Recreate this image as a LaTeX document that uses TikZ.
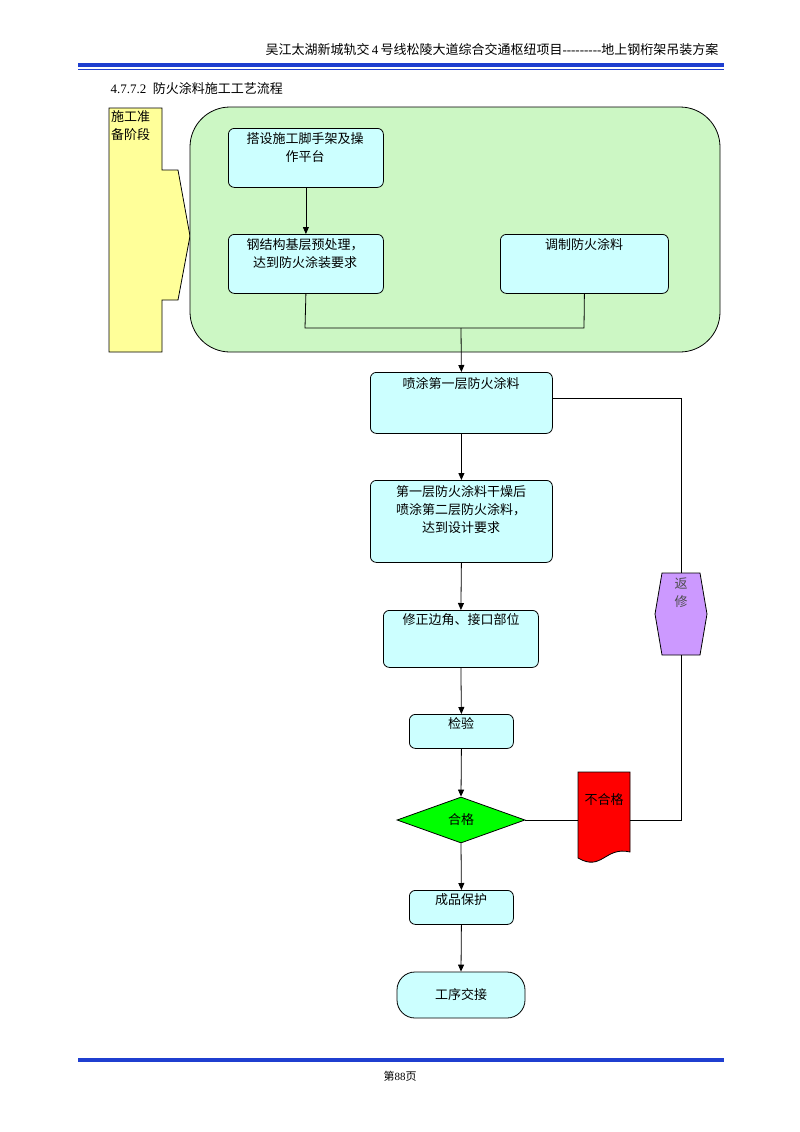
\documentclass[tikz,border=0pt]{standalone}
\usepackage{fontspec}
\setmainfont{Liberation Serif}
\newfontfamily\cjk{Noto Sans CJK SC}
\usetikzlibrary{shapes.geometric,arrows.meta}
\definecolor{boxc}{HTML}{CCFFFF}
\definecolor{greenbg}{HTML}{CCF7C4}
\definecolor{yel}{HTML}{FFFF99}
\definecolor{purp}{HTML}{CC99FF}
\definecolor{hdblue}{HTML}{1F3FD0}
\begin{document}
\begin{tikzpicture}[x=1pt,y=-1pt,
  box/.style={draw,fill=boxc,rounded corners=6pt,line width=0.8pt,align=center,inner sep=0pt,anchor=north west},
  lbl/.style={anchor=north,align=center,font=\cjk\fontsize{13}{18}\selectfont},
  arr/.style={-{Triangle[length=7pt,width=6pt]},line width=0.8pt},
  ln/.style={line width=0.8pt}]
\useasboundingbox (0,0) rectangle (800,1132);
% header
\node[anchor=base east,font=\fontsize{13}{14}\selectfont] at (722,55) {{\cjk 吴江太湖新城轨交}\,4\,{\cjk 号线松陵大道综合交通枢纽项目}{-}{-}{-}{-}{-}{-}{-}{-}{-}{\cjk 地上钢桁架吊装方案}};
\fill[hdblue] (78,63) rectangle (724,67);
\draw[hdblue,line width=0.8pt] (78,69.5) -- (724,69.5);
\node[anchor=base west,font=\fontsize{13}{14}\selectfont] at (107,93) {4.7.7.2\ \ {\cjk 防火涂料施工工艺流程}};
% stage arrow
\draw[fill=yel,line width=0.8pt] (109,108)--(162,108)--(162,170)--(178,170)--(190,236)--(178,300)--(162,300)--(162,352)--(109,352)--cycle;
\node[anchor=north west,align=left,inner sep=0pt,font=\cjk\fontsize{13}{18}\selectfont] (stage) at (111,110) {施工准\\备阶段};
% green area
\draw[fill=greenbg,rounded corners=40pt,line width=0.8pt] (190,107) rectangle (720,352);
\node[box,minimum width=155pt,minimum height=59pt] (b1) at (228,128) {};
\node[lbl] at (305,129) {搭设施工脚手架及操\\作平台};
\node[box,minimum width=155pt,minimum height=59pt] (b2) at (228,234) {};
\node[lbl] at (305,235) {钢结构基层预处理，\\达到防火涂装要求};
\node[box,minimum width=168pt,minimum height=59pt] (b3) at (500,234) {};
\node[lbl] at (584,235) {调制防火涂料};
\draw[arr] (b1.south) -- (b2.north);
\coordinate (j1) at (305,328); \coordinate (j2) at (461,328); \coordinate (j3) at (584,328);
\draw[ln] (b2.south) -- (j1) -- (j3) -- (b3.south);
% main column
\node[box,minimum width=182pt,minimum height=61pt] (b4) at (370,372) {};
\node[lbl] at (461,374) {喷涂第一层防火涂料};
\draw[arr] (j2) -- (b4.north);
\node[box,minimum width=182pt,minimum height=82pt] (b5) at (370,480) {};
\node[lbl] at (461,482) {第一层防火涂料干燥后\\喷涂第二层防火涂料，\\达到设计要求};
\draw[arr] (b4.south) -- (b5.north);
\node[box,minimum width=155pt,minimum height=57pt] (b6) at (383,610) {};
\node[lbl] at (461,610) {修正边角、接口部位};
\draw[arr] (b5.south) -- (b6.north);
\node[box,minimum width=104pt,minimum height=34pt] (b7) at (409,714) {};
\node[lbl] at (461,714) {检验};
\draw[arr] (b6.south) -- (b7.north);
\node[diamond,draw,fill=green,line width=0.8pt,minimum width=128pt,minimum height=46pt,inner sep=0pt,aspect=2.8,font=\cjk\fontsize{13}{14}\selectfont] (d) at (461,820) {合格};
\draw[arr] (b7.south) -- (d.north);
\node[box,minimum width=104pt,minimum height=34pt] (b8) at (409,890) {};
\node[lbl] at (461,890) {成品保护};
\draw[arr] (d.south) -- (b8.north);
\node[draw,fill=boxc,rounded corners=18pt,line width=0.8pt,minimum width=128pt,minimum height=46pt,inner sep=0pt,font=\cjk\fontsize{13}{14}\selectfont] (b9) at (461,995) {工序交接};
\draw[arr] (b8.south) -- (b9.north);
% fail branch
\draw[fill=red,line width=0.8pt] (578,772) -- (630,772) -- (630,852) .. controls (605,846) and (602,872) .. (578,858) -- cycle;
\coordinate (fl) at (578,820); \coordinate (fr) at (630,820);
\node[lbl] at (604,790) {不合格};
\draw[ln] (d.east) -- (fl);
\draw[fill=purp,line width=0.8pt] (662,573)--(700,573)--(707,614)--(700,655)--(662,655)--(655,614)--cycle;
\node[anchor=north,align=center,font=\cjk\fontsize{13}{18}\selectfont,text=black!70] (hx) at (681,574) {返\\修};
\coordinate (c1) at (681,820); \coordinate (c2) at (681,398); \coordinate (hb) at (681,655); \coordinate (ht) at (681,573);
\coordinate (b4r) at (552,398);
\draw[ln] (fr) -- (c1) -- (hb);
\draw[ln] (ht) -- (c2) -- (b4r);
% footer
\fill[hdblue] (78,1058) rectangle (724,1062);
\node[font=\fontsize{11}{13}\selectfont] at (400,1076) {{\cjk 第}88{\cjk 页}};
\end{tikzpicture}
\end{document}
